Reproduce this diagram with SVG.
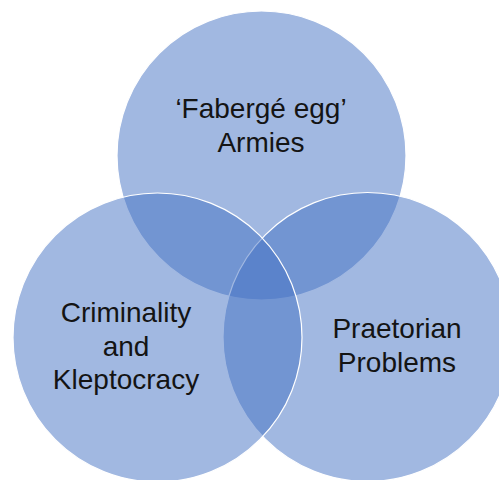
<svg xmlns="http://www.w3.org/2000/svg" width="499" height="480" viewBox="0 0 499 480">
  <style>
    .set { fill: #4472C4; fill-opacity: 0.5; stroke: #FFFFFF; stroke-width: 1.2; }
    .label { font-family: "Liberation Sans", Arial, sans-serif; font-size: 28px; fill: #141414; text-anchor: middle; }
  </style>
  <rect width="499" height="480" fill="#FFFFFF"/>

  <!-- Venn circles: drawn back to front -->
  <g id="faberge-egg-armies">
    <circle class="set" cx="261.5" cy="155.5" r="144.5"/>
  </g>
  <g id="praetorian-problems">
    <circle class="set" cx="367.5" cy="337" r="144.5"/>
  </g>
  <g id="criminality-kleptocracy">
    <circle class="set" cx="157.5" cy="337.5" r="144.5"/>
  </g>

  <!-- Circle labels -->
  <g id="labels">
    <text class="label" x="261" y="118">‘Fabergé egg’</text>
    <text class="label" x="261" y="152">Armies</text>
    <text class="label" x="397" y="338">Praetorian</text>
    <text class="label" x="397" y="372">Problems</text>
    <text class="label" x="126" y="322">Criminality</text>
    <text class="label" x="126" y="355.5">and</text>
    <text class="label" x="126" y="389">Kleptocracy</text>
  </g>
</svg>
